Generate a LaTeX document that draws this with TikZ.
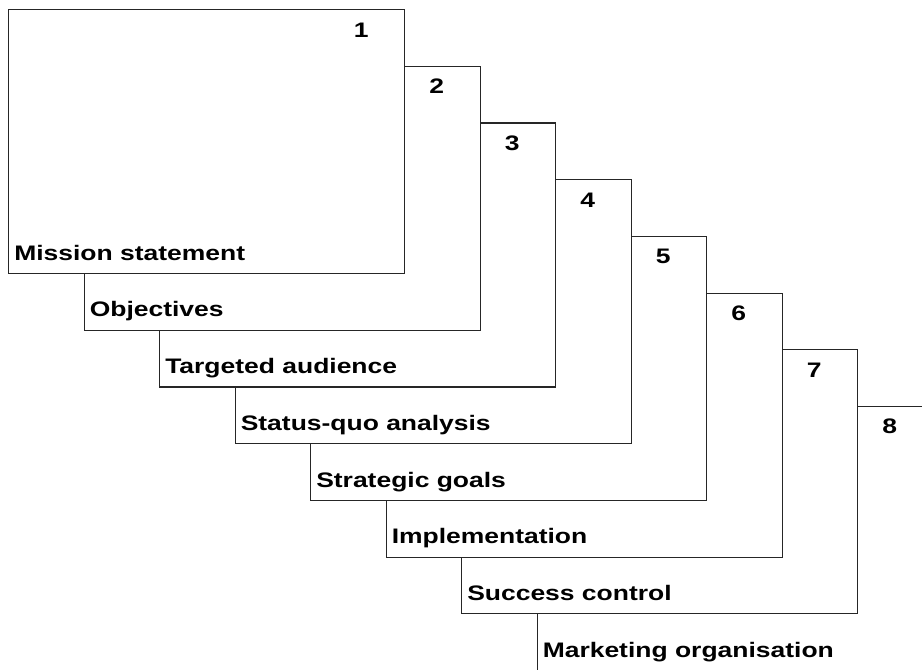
\documentclass[tikz,border=0pt]{standalone}
\usepackage{fontspec}
\setmainfont{Liberation Sans}[FakeStretch=1.26]
\begin{document}
\begin{tikzpicture}[x=0.75pt,y=-0.75pt,
  box/.style={draw=black!85, line width=0.9pt, fill=white, rectangle,
    anchor=north west, minimum width=297pt, minimum height=198pt, inner sep=0pt},
  lbl/.style={font=\bfseries\fontsize{15.75}{18}\selectfont, inner sep=0pt, text=black}]
\useasboundingbox (0,0) rectangle (922,669);
\clip (0,0) rectangle (922,669);
\foreach \k in {8,7,...,1}
  \node[box] (b\k) at ({8+75.5*(\k-1)},{9+56.7*(\k-1)}) {};
\foreach \k/\t in {1/Mission statement,2/Objectives,3/Targeted audience,
  4/Status-quo analysis,5/Strategic goals,6/Implementation,
  7/Success control,8/Marketing organisation}{
  \node[lbl, anchor=base west, xshift=4.5pt, yshift=10.5pt] (t\k) at (b\k.south west) {\t};
  \node[lbl, anchor=base, xshift=-33pt, yshift=-21pt] (n\k) at (b\k.north east) {\k};
}
\end{tikzpicture}
\end{document}
